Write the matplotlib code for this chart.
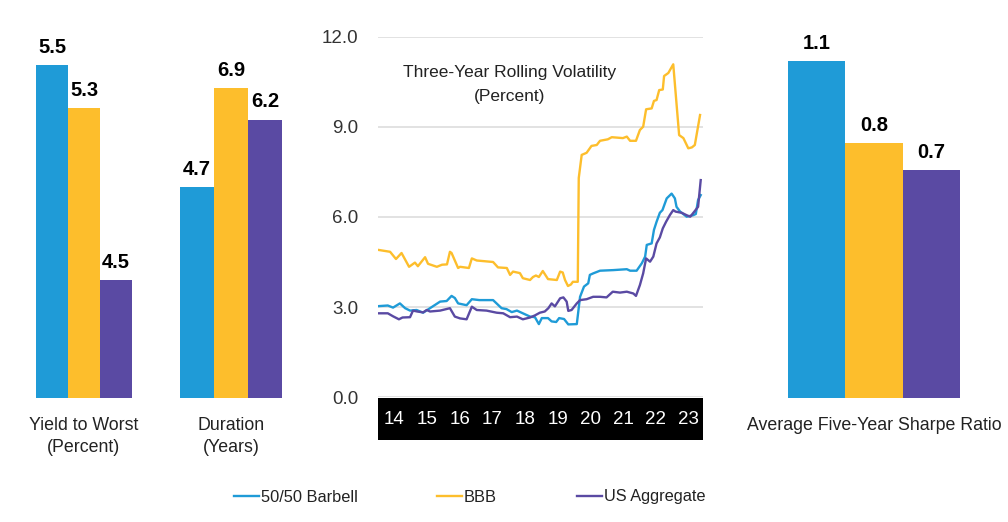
import numpy as np
import matplotlib.pyplot as plt
from matplotlib.lines import Line2D

plt.rcParams['font.family'] = ['Liberation Sans', 'DejaVu Sans']

# colours
c_barbell = '#1f9bd7'
c_bbb = '#fdbe2c'
c_agg = '#5a4aa3'
colors = [c_barbell, c_bbb, c_agg]

series_names = ['50/50 Barbell', 'BBB', 'US Aggregate']

# bar panels
ytw_values = [5.5, 5.3, 4.5]
dur_values = [4.7, 6.9, 6.2]
sharpe_values = [1.1, 0.8, 0.7]

# three-year rolling volatility (percent)
bar_x = [2014.03, 2014.30, 2014.46, 2014.67, 2014.83, 2014.98, 2015.18, 2015.38, 2015.59,
         2015.90, 2016.10, 2016.25, 2016.35, 2016.45, 2016.71, 2016.87, 2017.10, 2017.52,
         2017.78, 2017.93, 2018.09, 2018.25, 2018.43, 2018.65, 2018.80, 2018.92, 2019.01,
         2019.20, 2019.31, 2019.45, 2019.54, 2019.69, 2019.82, 2020.08, 2020.18, 2020.30,
         2020.43, 2020.48, 2020.58, 2020.79, 2021.20, 2021.61, 2021.71, 2021.91, 2022.07,
         2022.17, 2022.22, 2022.37, 2022.44, 2022.52, 2022.62, 2022.70, 2022.83, 2022.98,
         2023.08, 2023.13, 2023.24, 2023.44, 2023.64, 2023.72, 2023.79, 2023.87]
bar_y = [3.03, 3.05, 2.98, 3.12, 2.96, 2.88, 2.90, 2.81, 2.96,
         3.18, 3.20, 3.37, 3.30, 3.12, 3.06, 3.26, 3.23, 3.23,
         2.96, 2.93, 2.83, 2.88, 2.79, 2.68, 2.66, 2.43, 2.63,
         2.63, 2.52, 2.50, 2.63, 2.60, 2.42, 2.43, 3.34, 3.68,
         3.79, 4.07, 4.12, 4.21, 4.23, 4.26, 4.21, 4.21, 4.46,
         4.68, 5.07, 5.12, 5.57, 5.84, 6.14, 6.23, 6.62, 6.78,
         6.62, 6.34, 6.18, 6.01, 6.06, 6.10, 6.57, 6.73]

bbb_x = [2014.03, 2014.37, 2014.55, 2014.72, 2014.95, 2015.13, 2015.22, 2015.44, 2015.53,
         2015.80, 2015.96, 2016.11, 2016.20, 2016.25, 2016.45, 2016.51, 2016.78, 2016.87,
         2017.02, 2017.52, 2017.67, 2017.94, 2018.04, 2018.13, 2018.34, 2018.43, 2018.65,
         2018.74, 2018.83, 2018.92, 2019.04, 2019.10, 2019.20, 2019.47, 2019.57, 2019.65,
         2019.72, 2019.81, 2019.90, 2019.96, 2020.11, 2020.14, 2020.23, 2020.38, 2020.53,
         2020.69, 2020.79, 2021.03, 2021.15, 2021.49, 2021.61, 2021.71, 2021.89, 2022.01,
         2022.11, 2022.20, 2022.37, 2022.44, 2022.52, 2022.60, 2022.71, 2022.75, 2022.88,
         2023.03, 2023.21, 2023.34, 2023.49, 2023.60, 2023.69, 2023.85]
bbb_y = [4.90, 4.84, 4.60, 4.80, 4.34, 4.48, 4.36, 4.66, 4.44,
         4.34, 4.41, 4.42, 4.84, 4.80, 4.30, 4.34, 4.30, 4.62,
         4.55, 4.50, 4.32, 4.30, 4.07, 4.18, 4.13, 3.96, 3.90,
         4.00, 4.05, 4.00, 4.20, 4.10, 3.93, 3.90, 4.18, 4.15,
         3.90, 3.70, 3.75, 3.84, 3.84, 7.30, 8.07, 8.14, 8.37,
         8.40, 8.54, 8.59, 8.66, 8.63, 8.68, 8.54, 8.54, 8.90,
         9.01, 9.59, 9.62, 9.87, 9.90, 10.23, 10.25, 10.70, 10.80,
         11.09, 8.73, 8.63, 8.29, 8.32, 8.40, 9.40]

agg_x = [2014.03, 2014.30, 2014.46, 2014.64, 2014.75, 2014.98, 2015.07, 2015.20, 2015.38,
         2015.49, 2015.59, 2015.90, 2016.20, 2016.35, 2016.51, 2016.71, 2016.87, 2017.02,
         2017.32, 2017.63, 2017.83, 2018.04, 2018.25, 2018.43, 2018.65, 2018.80, 2018.95,
         2019.10, 2019.21, 2019.31, 2019.41, 2019.57, 2019.67, 2019.77, 2019.82, 2019.92,
         2020.08, 2020.18, 2020.38, 2020.58, 2020.79, 2020.99, 2021.18, 2021.40, 2021.61,
         2021.81, 2021.89, 2022.01, 2022.11, 2022.20, 2022.32, 2022.42, 2022.52, 2022.62,
         2022.71, 2022.81, 2022.93, 2023.03, 2023.10, 2023.29, 2023.44, 2023.55, 2023.69,
         2023.79, 2023.87]
agg_y = [2.79, 2.79, 2.69, 2.59, 2.65, 2.66, 2.88, 2.85, 2.82,
         2.90, 2.85, 2.88, 2.96, 2.68, 2.62, 2.59, 3.01, 2.90,
         2.88, 2.81, 2.79, 2.66, 2.68, 2.59, 2.65, 2.72, 2.81,
         2.85, 2.96, 3.12, 3.02, 3.29, 3.32, 3.18, 2.87, 2.90,
         3.12, 3.23, 3.26, 3.34, 3.34, 3.32, 3.51, 3.48, 3.51,
         3.45, 3.37, 3.73, 4.12, 4.62, 4.51, 4.68, 5.12, 5.32,
         5.62, 5.84, 6.07, 6.23, 6.18, 6.14, 6.06, 6.01, 6.20,
         6.34, 7.23]

years = list(range(2014, 2024))
vol_ticks = [0, 3, 6, 9, 12]

W, H = 1008, 522
fig = plt.figure(figsize=(W / 100, H / 100), dpi=100)


def px_axes(x0, y0, x1, y1):
    # pixel box (top-left origin) -> figure axes
    return fig.add_axes([x0 / W, 1 - y1 / H, (x1 - x0) / W, (y1 - y0) / H])


def bar_panel(x0, x1, values, ymin, ymax, label_lines):
    ax = px_axes(x0, 30, x1, 398)
    vals = np.array(values)
    ax.bar(range(3), vals - ymin, width=1.0, color=colors, bottom=ymin)
    ax.set_xlim(-0.5, 2.5)
    ax.set_ylim(ymin, ymax)
    ax.axis('off')
    for i, v in enumerate(values):
        ax.annotate('{0:.1f}'.format(v), (i, v), xytext=(0, 6), textcoords='offset points',
                    ha='center', va='bottom', fontsize=14.5, fontweight='bold', color='black')
    fig.text((x0 + x1) / 2 / W, 1 - 417 / H, label_lines, ha='center', va='top',
             fontsize=12.8, color='#222222', linespacing=1.4)
    return ax


bar_panel(36, 132, ytw_values, 3.95, 3.95 + 368 / 214.6, 'Yield to Worst\n(Percent)')
bar_panel(180, 282, dur_values, 0, 368 / 44.9, 'Duration\n(Years)')
bar_panel(788, 960, sharpe_values, -0.136, -0.136 + 368 / 272.6, 'Average Five-Year Sharpe Ratio')

# line panel
ax = px_axes(378, 37, 703, 397)
ax.plot(bbb_x, bbb_y, color=c_bbb, lw=1.7)
ax.plot(bar_x, bar_y, color=c_barbell, lw=1.7)
ax.plot(agg_x, agg_y, color=c_agg, lw=1.7)
ax.set_xlim(2014.0, 2023.94)
ax.set_ylim(0, 12)
ax.set_yticks(vol_ticks)
ax.set_yticklabels(['{0:.1f}'.format(t) for t in vol_ticks], fontsize=13.5, color='#333333')
ax.tick_params(axis='y', length=0, pad=14)
ax.set_xticks([])
ax.grid(axis='y', color='#dddddd', lw=1.2)
ax.set_axisbelow(True)
for s in ax.spines.values():
    s.set_visible(False)
ax.text(0.406, 0.868, 'Three-Year Rolling Volatility\n(Percent)', transform=ax.transAxes,
        ha='center', va='center', fontsize=12.5, color='#222222', linespacing=1.75)

# black year band
band = px_axes(378, 398, 703, 440)
band.set_facecolor('black')
band.set_xlim(2014.0, 2023.94)
band.set_ylim(0, 1)
band.set_xticks([])
band.set_yticks([])
for s in band.spines.values():
    s.set_visible(False)
for yr in years:
    band.text(yr + 0.5, 0.48, str(yr)[2:], ha='center', va='center', color='white', fontsize=13.5)

# legend
legend_pos = [234, 437, 577]
for name, col, xp in zip(series_names, colors, legend_pos):
    h = Line2D([], [], color=col, lw=1.7)
    fig.legend([h], [name], loc='center left', bbox_to_anchor=(xp / W, 1 - 497 / H),
               frameon=False, fontsize=11.8, handlelength=1.5, handletextpad=0.15,
               borderpad=0, borderaxespad=0, labelcolor='#222222')

fig.savefig('out.png', dpi=100)
